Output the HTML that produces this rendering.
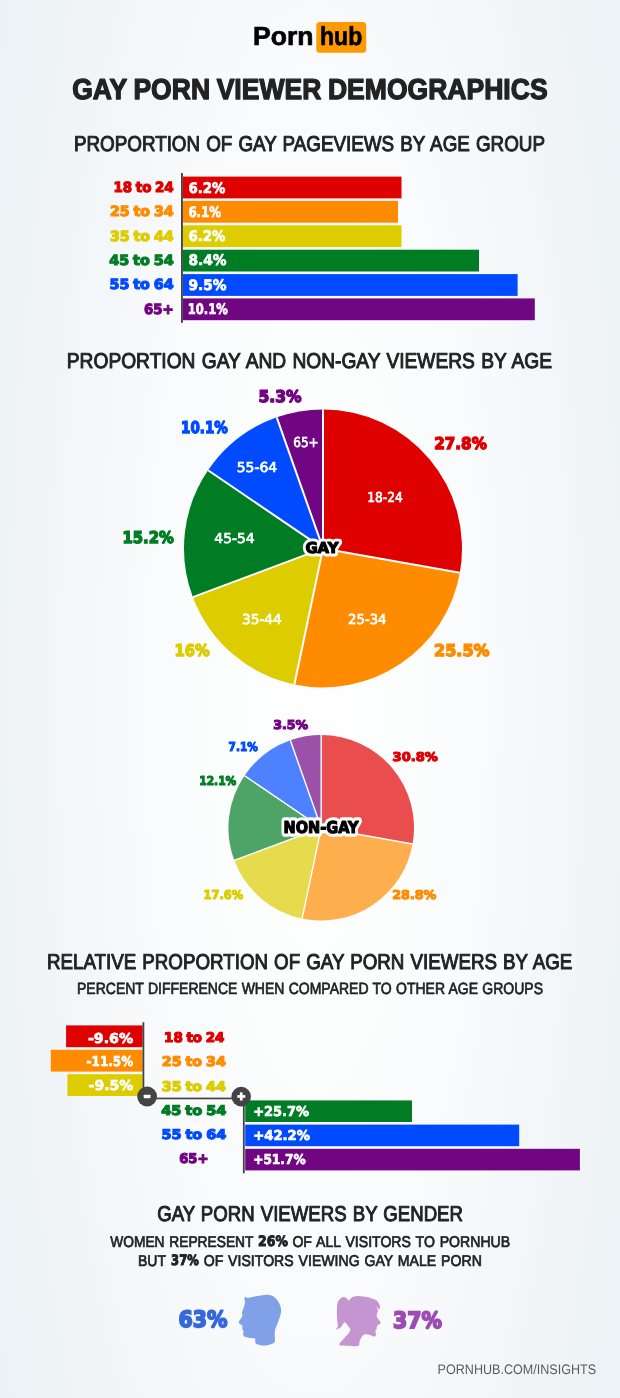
<!DOCTYPE html>
<html lang="en"><head><meta charset="utf-8"><title>Viewer Demographics</title>
<style>
html,body{margin:0;padding:0;background:#f6f8fa;}
body{width:620px;height:1398px;overflow:hidden;}
svg{display:block;}
text{white-space:pre;text-rendering:geometricPrecision;}
</style></head><body>
<svg width="620" height="1398" viewBox="0 0 620 1398">
<defs><radialGradient id="bg" gradientUnits="userSpaceOnUse" cx="0" cy="0" r="1" gradientTransform="translate(315 699) scale(400 1500)">
<stop offset="0" stop-color="#fefefe"/><stop offset="0.25" stop-color="#fcfdfd"/><stop offset="0.5" stop-color="#f7f9fb"/><stop offset="0.7" stop-color="#f1f5f8"/><stop offset="0.8" stop-color="#eef3f6"/><stop offset="1.05" stop-color="#e9eff3"/></radialGradient></defs>
<rect width="620" height="1398" fill="url(#bg)"/>
<text x="253.0" y="45.0" textLength="60.4" lengthAdjust="spacingAndGlyphs" font-family='"Liberation Sans", sans-serif' font-size="26.0" font-weight="bold" fill="#000" stroke="#000" stroke-width="0.7" stroke-linejoin="round">Porn</text>
<rect x="316.3" y="21.9" width="49.9" height="30.8" fill="#ff9900" rx="3.5"/>
<text x="320.1" y="45.0" textLength="42.1" lengthAdjust="spacingAndGlyphs" font-family='"Liberation Sans", sans-serif' font-size="26.0" font-weight="bold" fill="#000" stroke="#000" stroke-width="0.7" stroke-linejoin="round">hub</text>
<text x="72.2" y="99.4" textLength="475.4" lengthAdjust="spacingAndGlyphs" font-family='"Liberation Sans", sans-serif' font-size="28.8" font-weight="bold" fill="#222" stroke="#222" stroke-width="1.3" stroke-linejoin="round" word-spacing="-0.8">GAY PORN VIEWER DEMOGRAPHICS</text>
<text x="73.9" y="150.8" textLength="471.1" lengthAdjust="spacingAndGlyphs" font-family='"Liberation Sans", sans-serif' font-size="21.5" font-weight="normal" fill="#222" stroke="#222" stroke-width="1.0" stroke-linejoin="round" word-spacing="1.0">PROPORTION OF GAY PAGEVIEWS BY AGE GROUP</text>
<rect x="183.0" y="176.6" width="218.5" height="21.8" fill="#df0000"/>
<text x="113.4" y="192.1" textLength="60.3" lengthAdjust="spacingAndGlyphs" font-family='"DejaVu Sans", "Liberation Sans", sans-serif' font-size="13.99" font-weight="bold" fill="#df0000" stroke="#df0000" stroke-width="1.2" stroke-linejoin="miter" stroke-miterlimit="2" word-spacing="-1.0">18 to 24</text>
<text x="188.4" y="192.5" textLength="37.0" lengthAdjust="spacingAndGlyphs" font-family='"DejaVu Sans", "Liberation Sans", sans-serif' font-size="14.54" font-weight="bold" fill="#fff" stroke="#fff" stroke-width="0.7" stroke-linejoin="miter" stroke-miterlimit="2">6.2%</text>
<rect x="183.0" y="200.9" width="215.0" height="21.8" fill="#ff8c00"/>
<text x="110.0" y="216.4" textLength="63.7" lengthAdjust="spacingAndGlyphs" font-family='"DejaVu Sans", "Liberation Sans", sans-serif' font-size="13.99" font-weight="bold" fill="#ff8c00" stroke="#ff8c00" stroke-width="1.2" stroke-linejoin="miter" stroke-miterlimit="2" word-spacing="-1.0">25 to 34</text>
<text x="188.4" y="216.8" textLength="32.8" lengthAdjust="spacingAndGlyphs" font-family='"DejaVu Sans", "Liberation Sans", sans-serif' font-size="14.54" font-weight="bold" fill="#fff" stroke="#fff" stroke-width="0.7" stroke-linejoin="miter" stroke-miterlimit="2">6.1%</text>
<rect x="183.0" y="225.3" width="218.5" height="21.8" fill="#dccc00"/>
<text x="110.0" y="240.7" textLength="63.7" lengthAdjust="spacingAndGlyphs" font-family='"DejaVu Sans", "Liberation Sans", sans-serif' font-size="13.99" font-weight="bold" fill="#dccc00" stroke="#dccc00" stroke-width="1.2" stroke-linejoin="miter" stroke-miterlimit="2" word-spacing="-1.0">35 to 44</text>
<text x="188.4" y="241.1" textLength="37.0" lengthAdjust="spacingAndGlyphs" font-family='"DejaVu Sans", "Liberation Sans", sans-serif' font-size="14.54" font-weight="bold" fill="#fff" stroke="#fff" stroke-width="0.7" stroke-linejoin="miter" stroke-miterlimit="2">6.2%</text>
<rect x="183.0" y="249.7" width="296.0" height="21.8" fill="#007d24"/>
<text x="109.2" y="265.0" textLength="64.5" lengthAdjust="spacingAndGlyphs" font-family='"DejaVu Sans", "Liberation Sans", sans-serif' font-size="13.99" font-weight="bold" fill="#007d24" stroke="#007d24" stroke-width="1.2" stroke-linejoin="miter" stroke-miterlimit="2" word-spacing="-1.0">45 to 54</text>
<text x="188.4" y="265.4" textLength="38.1" lengthAdjust="spacingAndGlyphs" font-family='"DejaVu Sans", "Liberation Sans", sans-serif' font-size="14.54" font-weight="bold" fill="#fff" stroke="#fff" stroke-width="0.7" stroke-linejoin="miter" stroke-miterlimit="2">8.4%</text>
<rect x="183.0" y="274.1" width="334.6" height="21.8" fill="#004bff"/>
<text x="109.5" y="289.3" textLength="64.2" lengthAdjust="spacingAndGlyphs" font-family='"DejaVu Sans", "Liberation Sans", sans-serif' font-size="13.99" font-weight="bold" fill="#004bff" stroke="#004bff" stroke-width="1.2" stroke-linejoin="miter" stroke-miterlimit="2" word-spacing="-1.0">55 to 64</text>
<text x="188.4" y="289.7" textLength="38.1" lengthAdjust="spacingAndGlyphs" font-family='"DejaVu Sans", "Liberation Sans", sans-serif' font-size="14.54" font-weight="bold" fill="#fff" stroke="#fff" stroke-width="0.7" stroke-linejoin="miter" stroke-miterlimit="2">9.5%</text>
<rect x="183.0" y="298.4" width="351.8" height="21.8" fill="#700681"/>
<text x="144.1" y="313.6" textLength="29.6" lengthAdjust="spacingAndGlyphs" font-family='"DejaVu Sans", "Liberation Sans", sans-serif' font-size="13.99" font-weight="bold" fill="#700681" stroke="#700681" stroke-width="1.2" stroke-linejoin="miter" stroke-miterlimit="2" word-spacing="-1.0">65+</text>
<text x="187.8" y="314.0" textLength="40.0" lengthAdjust="spacingAndGlyphs" font-family='"DejaVu Sans", "Liberation Sans", sans-serif' font-size="14.54" font-weight="bold" fill="#fff" stroke="#fff" stroke-width="0.7" stroke-linejoin="miter" stroke-miterlimit="2">10.1%</text>
<rect x="181.0" y="173.0" width="1.9" height="149.8" fill="#444"/>
<text x="66.8" y="367.5" textLength="485.3" lengthAdjust="spacingAndGlyphs" font-family='"Liberation Sans", sans-serif' font-size="21.5" font-weight="normal" fill="#222" stroke="#222" stroke-width="1.0" stroke-linejoin="round" word-spacing="1.0">PROPORTION GAY AND NON-GAY VIEWERS BY AGE</text>
<path d="M323 548.4L323.00 409.40A139 139 0 0 1 459.85 572.73Z" fill="#df0000"/>
<path d="M323 548.4L459.85 572.73A139 139 0 0 1 294.39 684.42Z" fill="#ff8c00"/>
<path d="M323 548.4L294.39 684.42A139 139 0 0 1 192.82 597.12Z" fill="#dccc00"/>
<path d="M323 548.4L192.82 597.12A139 139 0 0 1 208.04 470.27Z" fill="#007d24"/>
<path d="M323 548.4L208.04 470.27A139 139 0 0 1 276.74 417.32Z" fill="#004bff"/>
<path d="M323 548.4L276.74 417.32A139 139 0 0 1 323.00 409.40Z" fill="#700681"/>
<line x1="323" y1="548.4" x2="323.00" y2="409.40" stroke="#fff" stroke-width="2"/>
<line x1="323" y1="548.4" x2="459.85" y2="572.73" stroke="#fff" stroke-width="2"/>
<line x1="323" y1="548.4" x2="294.39" y2="684.42" stroke="#fff" stroke-width="2"/>
<line x1="323" y1="548.4" x2="192.82" y2="597.12" stroke="#fff" stroke-width="2"/>
<line x1="323" y1="548.4" x2="208.04" y2="470.27" stroke="#fff" stroke-width="2"/>
<line x1="323" y1="548.4" x2="276.74" y2="417.32" stroke="#fff" stroke-width="2"/>
<text x="434.3" y="449.3" textLength="52.5" lengthAdjust="spacingAndGlyphs" font-family='"DejaVu Sans", "Liberation Sans", sans-serif' font-size="16.19" font-weight="bold" fill="#df0000" stroke="#df0000" stroke-width="1.4" stroke-linejoin="miter" stroke-miterlimit="2">27.8%</text>
<text x="434.1" y="655.7" textLength="55.4" lengthAdjust="spacingAndGlyphs" font-family='"DejaVu Sans", "Liberation Sans", sans-serif' font-size="16.19" font-weight="bold" fill="#ff8c00" stroke="#ff8c00" stroke-width="1.4" stroke-linejoin="miter" stroke-miterlimit="2">25.5%</text>
<text x="174.6" y="655.7" textLength="35.1" lengthAdjust="spacingAndGlyphs" font-family='"DejaVu Sans", "Liberation Sans", sans-serif' font-size="16.19" font-weight="bold" fill="#dccc00" stroke="#dccc00" stroke-width="1.4" stroke-linejoin="miter" stroke-miterlimit="2">16%</text>
<text x="122.5" y="543.0" textLength="51.3" lengthAdjust="spacingAndGlyphs" font-family='"DejaVu Sans", "Liberation Sans", sans-serif' font-size="16.19" font-weight="bold" fill="#007d24" stroke="#007d24" stroke-width="1.4" stroke-linejoin="miter" stroke-miterlimit="2">15.2%</text>
<text x="181.1" y="433.1" textLength="46.8" lengthAdjust="spacingAndGlyphs" font-family='"DejaVu Sans", "Liberation Sans", sans-serif' font-size="16.19" font-weight="bold" fill="#004bff" stroke="#004bff" stroke-width="1.4" stroke-linejoin="miter" stroke-miterlimit="2">10.1%</text>
<text x="258.5" y="402.2" textLength="43.0" lengthAdjust="spacingAndGlyphs" font-family='"DejaVu Sans", "Liberation Sans", sans-serif' font-size="16.19" font-weight="bold" fill="#700681" stroke="#700681" stroke-width="1.4" stroke-linejoin="miter" stroke-miterlimit="2">5.3%</text>
<text x="367.2" y="502.3" textLength="35.7" lengthAdjust="spacingAndGlyphs" font-family='"DejaVu Sans", "Liberation Sans", sans-serif' font-size="13.72" font-weight="normal" fill="#fff" stroke="#fff" stroke-width="0.7" stroke-linejoin="miter" stroke-miterlimit="2">18-24</text>
<text x="348.1" y="624.2" textLength="38.4" lengthAdjust="spacingAndGlyphs" font-family='"DejaVu Sans", "Liberation Sans", sans-serif' font-size="13.72" font-weight="normal" fill="#fff" stroke="#fff" stroke-width="0.7" stroke-linejoin="miter" stroke-miterlimit="2">25-34</text>
<text x="241.9" y="624.2" textLength="40.0" lengthAdjust="spacingAndGlyphs" font-family='"DejaVu Sans", "Liberation Sans", sans-serif' font-size="13.72" font-weight="normal" fill="#fff" stroke="#fff" stroke-width="0.7" stroke-linejoin="miter" stroke-miterlimit="2">35-44</text>
<text x="214.3" y="543.4" textLength="40.4" lengthAdjust="spacingAndGlyphs" font-family='"DejaVu Sans", "Liberation Sans", sans-serif' font-size="13.72" font-weight="normal" fill="#fff" stroke="#fff" stroke-width="0.7" stroke-linejoin="miter" stroke-miterlimit="2">45-54</text>
<text x="236.7" y="472.2" textLength="40.5" lengthAdjust="spacingAndGlyphs" font-family='"DejaVu Sans", "Liberation Sans", sans-serif' font-size="13.72" font-weight="normal" fill="#fff" stroke="#fff" stroke-width="0.7" stroke-linejoin="miter" stroke-miterlimit="2">55-64</text>
<text x="293.2" y="447.2" textLength="25.5" lengthAdjust="spacingAndGlyphs" font-family='"DejaVu Sans", "Liberation Sans", sans-serif' font-size="13.72" font-weight="normal" fill="#fff" stroke="#fff" stroke-width="0.7" stroke-linejoin="miter" stroke-miterlimit="2">65+</text>
<text x="305.4" y="553.2" textLength="33.1" lengthAdjust="spacingAndGlyphs" font-family='"DejaVu Sans", "Liberation Sans", sans-serif' font-size="14.9" font-weight="bold" fill="#fff" stroke="#fff" stroke-width="6.8" stroke-linejoin="round" aria-hidden="true">GAY</text>
<text x="305.4" y="553.2" textLength="33.1" lengthAdjust="spacingAndGlyphs" font-family='"DejaVu Sans", "Liberation Sans", sans-serif' font-size="14.9" font-weight="bold" fill="#000" stroke="#000" stroke-width="1.2" stroke-linejoin="round">GAY</text>
<path d="M321.2 827.8L321.20 735.00A92.8 92.8 0 0 1 412.57 844.04Z" fill="#e94d4d"/>
<path d="M321.2 827.8L412.57 844.04A92.8 92.8 0 0 1 302.10 918.61Z" fill="#ffae4d"/>
<path d="M321.2 827.8L302.10 918.61A92.8 92.8 0 0 1 234.29 860.33Z" fill="#e6db4d"/>
<path d="M321.2 827.8L234.29 860.33A92.8 92.8 0 0 1 244.45 775.64Z" fill="#4da466"/>
<path d="M321.2 827.8L244.45 775.64A92.8 92.8 0 0 1 290.31 740.29Z" fill="#4d81ff"/>
<path d="M321.2 827.8L290.31 740.29A92.8 92.8 0 0 1 321.20 735.00Z" fill="#9b51a7"/>
<line x1="321.2" y1="827.8" x2="321.20" y2="735.00" stroke="#fff" stroke-width="1.4"/>
<line x1="321.2" y1="827.8" x2="412.57" y2="844.04" stroke="#fff" stroke-width="1.4"/>
<line x1="321.2" y1="827.8" x2="302.10" y2="918.61" stroke="#fff" stroke-width="1.4"/>
<line x1="321.2" y1="827.8" x2="234.29" y2="860.33" stroke="#fff" stroke-width="1.4"/>
<line x1="321.2" y1="827.8" x2="244.45" y2="775.64" stroke="#fff" stroke-width="1.4"/>
<line x1="321.2" y1="827.8" x2="290.31" y2="740.29" stroke="#fff" stroke-width="1.4"/>
<text x="392.6" y="760.5" textLength="45.3" lengthAdjust="spacingAndGlyphs" font-family='"DejaVu Sans", "Liberation Sans", sans-serif' font-size="12.21" font-weight="bold" fill="#df0000" stroke="#df0000" stroke-width="1.1" stroke-linejoin="miter" stroke-miterlimit="2">30.8%</text>
<text x="392.2" y="898.9" textLength="44.2" lengthAdjust="spacingAndGlyphs" font-family='"DejaVu Sans", "Liberation Sans", sans-serif' font-size="12.21" font-weight="bold" fill="#ff8c00" stroke="#ff8c00" stroke-width="1.1" stroke-linejoin="miter" stroke-miterlimit="2">28.8%</text>
<text x="203.6" y="898.9" textLength="39.7" lengthAdjust="spacingAndGlyphs" font-family='"DejaVu Sans", "Liberation Sans", sans-serif' font-size="12.21" font-weight="bold" fill="#dccc00" stroke="#dccc00" stroke-width="1.1" stroke-linejoin="miter" stroke-miterlimit="2">17.6%</text>
<text x="199.2" y="785.0" textLength="37.1" lengthAdjust="spacingAndGlyphs" font-family='"DejaVu Sans", "Liberation Sans", sans-serif' font-size="12.21" font-weight="bold" fill="#007d24" stroke="#007d24" stroke-width="1.1" stroke-linejoin="miter" stroke-miterlimit="2">12.1%</text>
<text x="228.6" y="750.5" textLength="29.2" lengthAdjust="spacingAndGlyphs" font-family='"DejaVu Sans", "Liberation Sans", sans-serif' font-size="12.21" font-weight="bold" fill="#004bff" stroke="#004bff" stroke-width="1.1" stroke-linejoin="miter" stroke-miterlimit="2">7.1%</text>
<text x="273.2" y="728.6" textLength="34.9" lengthAdjust="spacingAndGlyphs" font-family='"DejaVu Sans", "Liberation Sans", sans-serif' font-size="12.21" font-weight="bold" fill="#700681" stroke="#700681" stroke-width="1.1" stroke-linejoin="miter" stroke-miterlimit="2">3.5%</text>
<text x="283.6" y="833.2" textLength="75.0" lengthAdjust="spacingAndGlyphs" font-family='"DejaVu Sans", "Liberation Sans", sans-serif' font-size="16.4" font-weight="bold" fill="#fff" stroke="#fff" stroke-width="7.4" stroke-linejoin="round" aria-hidden="true">NON-GAY</text>
<text x="283.6" y="833.2" textLength="75.0" lengthAdjust="spacingAndGlyphs" font-family='"DejaVu Sans", "Liberation Sans", sans-serif' font-size="16.4" font-weight="bold" fill="#000" stroke="#000" stroke-width="1.2" stroke-linejoin="round">NON-GAY</text>
<text x="46.9" y="968.8" textLength="525.5" lengthAdjust="spacingAndGlyphs" font-family='"Liberation Sans", sans-serif' font-size="21.5" font-weight="normal" fill="#222" stroke="#222" stroke-width="1.0" stroke-linejoin="round" word-spacing="1.0">RELATIVE PROPORTION OF GAY PORN VIEWERS BY AGE</text>
<text x="77.0" y="993.8" textLength="466.0" lengthAdjust="spacingAndGlyphs" font-family='"Liberation Sans", sans-serif' font-size="16.3" font-weight="normal" fill="#222" stroke="#222" stroke-width="0.7" stroke-linejoin="round" word-spacing="0.4">PERCENT DIFFERENCE WHEN COMPARED TO OTHER AGE GROUPS</text>
<rect x="66.1" y="1025.4" width="76.5" height="21.8" fill="#df0000"/>
<text x="87.9" y="1042.5" textLength="45.3" lengthAdjust="spacingAndGlyphs" font-family='"DejaVu Sans", "Liberation Sans", sans-serif' font-size="13.58" font-weight="bold" fill="#fff" stroke="#fff" stroke-width="0.7" stroke-linejoin="miter" stroke-miterlimit="2">-9.6%</text>
<rect x="50.8" y="1049.8" width="91.8" height="21.8" fill="#ff8c00"/>
<text x="86.6" y="1066.2" textLength="46.6" lengthAdjust="spacingAndGlyphs" font-family='"DejaVu Sans", "Liberation Sans", sans-serif' font-size="13.58" font-weight="bold" fill="#fff" stroke="#fff" stroke-width="0.7" stroke-linejoin="miter" stroke-miterlimit="2">-11.5%</text>
<rect x="67.4" y="1074.2" width="75.2" height="21.8" fill="#dccc00"/>
<text x="88.6" y="1090.0" textLength="44.6" lengthAdjust="spacingAndGlyphs" font-family='"DejaVu Sans", "Liberation Sans", sans-serif' font-size="13.58" font-weight="bold" fill="#fff" stroke="#fff" stroke-width="0.7" stroke-linejoin="miter" stroke-miterlimit="2">-9.5%</text>
<rect x="142.5" y="1022.2" width="1.8" height="74.8" fill="#444"/>
<rect x="147.0" y="1097.6" width="94.0" height="1.7" fill="#444"/>
<rect x="242.9" y="1097.0" width="1.8" height="76.3" fill="#444"/>
<rect x="245.2" y="1100.4" width="166.8" height="21.6" fill="#007d24"/>
<text x="253.2" y="1116.1" textLength="55.9" lengthAdjust="spacingAndGlyphs" font-family='"DejaVu Sans", "Liberation Sans", sans-serif' font-size="13.58" font-weight="bold" fill="#fff" stroke="#fff" stroke-width="0.7" stroke-linejoin="miter" stroke-miterlimit="2">+25.7%</text>
<rect x="245.2" y="1124.6" width="274.0" height="21.6" fill="#004bff"/>
<text x="253.2" y="1140.1" textLength="56.8" lengthAdjust="spacingAndGlyphs" font-family='"DejaVu Sans", "Liberation Sans", sans-serif' font-size="13.58" font-weight="bold" fill="#fff" stroke="#fff" stroke-width="0.7" stroke-linejoin="miter" stroke-miterlimit="2">+42.2%</text>
<rect x="245.2" y="1148.8" width="334.7" height="21.6" fill="#700681"/>
<text x="253.2" y="1164.1" textLength="52.4" lengthAdjust="spacingAndGlyphs" font-family='"DejaVu Sans", "Liberation Sans", sans-serif' font-size="13.58" font-weight="bold" fill="#fff" stroke="#fff" stroke-width="0.7" stroke-linejoin="miter" stroke-miterlimit="2">+51.7%</text>
<text x="164.1" y="1042.2" textLength="60.3" lengthAdjust="spacingAndGlyphs" font-family='"DejaVu Sans", "Liberation Sans", sans-serif' font-size="13.31" font-weight="bold" fill="#df0000" stroke="#df0000" stroke-width="1.2" stroke-linejoin="miter" stroke-miterlimit="2" word-spacing="-1.0">18 to 24</text>
<text x="161.8" y="1066.4" textLength="64.1" lengthAdjust="spacingAndGlyphs" font-family='"DejaVu Sans", "Liberation Sans", sans-serif' font-size="13.31" font-weight="bold" fill="#ff8c00" stroke="#ff8c00" stroke-width="1.2" stroke-linejoin="miter" stroke-miterlimit="2" word-spacing="-1.0">25 to 34</text>
<text x="161.8" y="1090.6" textLength="64.1" lengthAdjust="spacingAndGlyphs" font-family='"DejaVu Sans", "Liberation Sans", sans-serif' font-size="13.31" font-weight="bold" fill="#dccc00" stroke="#dccc00" stroke-width="1.2" stroke-linejoin="miter" stroke-miterlimit="2" word-spacing="-1.0">35 to 44</text>
<text x="161.2" y="1114.8" textLength="65.2" lengthAdjust="spacingAndGlyphs" font-family='"DejaVu Sans", "Liberation Sans", sans-serif' font-size="13.31" font-weight="bold" fill="#007d24" stroke="#007d24" stroke-width="1.2" stroke-linejoin="miter" stroke-miterlimit="2" word-spacing="-1.0">45 to 54</text>
<text x="161.5" y="1139.0" textLength="64.7" lengthAdjust="spacingAndGlyphs" font-family='"DejaVu Sans", "Liberation Sans", sans-serif' font-size="13.31" font-weight="bold" fill="#004bff" stroke="#004bff" stroke-width="1.2" stroke-linejoin="miter" stroke-miterlimit="2" word-spacing="-1.0">55 to 64</text>
<text x="179.2" y="1163.2" textLength="29.2" lengthAdjust="spacingAndGlyphs" font-family='"DejaVu Sans", "Liberation Sans", sans-serif' font-size="13.31" font-weight="bold" fill="#700681" stroke="#700681" stroke-width="1.2" stroke-linejoin="miter" stroke-miterlimit="2" word-spacing="-1.0">65+</text>
<circle cx="147.1" cy="1096.5" r="9.9" fill="#444"/>
<rect x="143.7" y="1094.7" width="6.8" height="3.5" fill="#fff" rx="0.6"/>
<circle cx="241.2" cy="1096.6" r="9.8" fill="#444"/>
<rect x="237.3" y="1095.1" width="8.0" height="2.7" fill="#fff"/>
<rect x="239.9" y="1092.4" width="2.7" height="8.1" fill="#fff"/>
<text x="157.2" y="1220.7" textLength="305.8" lengthAdjust="spacingAndGlyphs" font-family='"Liberation Sans", sans-serif' font-size="21.5" font-weight="normal" fill="#222" stroke="#222" stroke-width="1.0" stroke-linejoin="round" word-spacing="1.0">GAY PORN VIEWERS BY GENDER</text>
<text x="110.2" y="1246.7" textLength="143.3" lengthAdjust="spacingAndGlyphs" font-family='"Liberation Sans", sans-serif' font-size="15.6" font-weight="normal" fill="#222" stroke="#222" stroke-width="0.7" stroke-linejoin="round" word-spacing="1.0">WOMEN REPRESENT</text>
<text x="258.1" y="1246.4" textLength="29.8" lengthAdjust="spacingAndGlyphs" font-family='"DejaVu Sans", "Liberation Sans", sans-serif' font-size="14.27" font-weight="bold" fill="#222" stroke="#222" stroke-width="1.0" stroke-linejoin="miter" stroke-miterlimit="2">26%</text>
<text x="292.4" y="1246.7" textLength="217.8" lengthAdjust="spacingAndGlyphs" font-family='"Liberation Sans", sans-serif' font-size="15.6" font-weight="normal" fill="#222" stroke="#222" stroke-width="0.7" stroke-linejoin="round" word-spacing="1.0">OF ALL VISITORS TO PORNHUB</text>
<text x="138.0" y="1265.6" textLength="28.0" lengthAdjust="spacingAndGlyphs" font-family='"Liberation Sans", sans-serif' font-size="15.6" font-weight="normal" fill="#222" stroke="#222" stroke-width="0.7" stroke-linejoin="round" word-spacing="1.0">BUT</text>
<text x="171.1" y="1265.3" textLength="27.7" lengthAdjust="spacingAndGlyphs" font-family='"DejaVu Sans", "Liberation Sans", sans-serif' font-size="14.27" font-weight="bold" fill="#222" stroke="#222" stroke-width="1.0" stroke-linejoin="miter" stroke-miterlimit="2">37%</text>
<text x="203.7" y="1265.6" textLength="278.2" lengthAdjust="spacingAndGlyphs" font-family='"Liberation Sans", sans-serif' font-size="15.6" font-weight="normal" fill="#222" stroke="#222" stroke-width="0.7" stroke-linejoin="round" word-spacing="1.0">OF VISITORS VIEWING GAY MALE PORN</text>
<text x="178.5" y="1327.3" textLength="49.0" lengthAdjust="spacingAndGlyphs" font-family='"DejaVu Sans", "Liberation Sans", sans-serif' font-size="22.50" font-weight="bold" fill="#3568dc" stroke="#3568dc" stroke-width="1.8" stroke-linejoin="miter" stroke-miterlimit="2">63%</text>
<text x="392.9" y="1327.7" textLength="49.0" lengthAdjust="spacingAndGlyphs" font-family='"DejaVu Sans", "Liberation Sans", sans-serif' font-size="22.50" font-weight="bold" fill="#9c4cb4" stroke="#9c4cb4" stroke-width="1.8" stroke-linejoin="miter" stroke-miterlimit="2">37%</text>
<text x="437.6" y="1374.0" textLength="158.6" lengthAdjust="spacingAndGlyphs" font-family='"Liberation Sans", sans-serif' font-size="13.8" font-weight="normal" fill="#5c5c5c">PORNHUB.COM/INSIGHTS</text>
<path d="M245.6 1296.6C246.1 1296.5 245.3 1298.0 247.2 1297.9C249.1 1297.8 254.2 1296.5 257.3 1296.0C260.3 1295.5 263.8 1294.7 266.3 1294.7C268.8 1294.7 270.9 1294.9 272.7 1296.0C274.6 1297.0 276.6 1299.2 277.9 1301.1C279.2 1303.1 280.5 1306.1 280.9 1308.2C281.3 1310.4 281.0 1312.4 280.5 1314.7C280.0 1316.9 278.7 1320.1 277.9 1322.4C277.1 1324.7 275.8 1327.0 275.3 1328.9C274.8 1330.7 274.8 1332.0 274.7 1334.0C274.6 1336.1 275.4 1340.1 274.7 1341.8C274.0 1343.4 271.9 1343.7 270.2 1344.4C268.4 1345.0 265.7 1345.6 263.7 1345.6C261.7 1345.7 259.2 1345.1 257.9 1344.6C256.6 1344.1 255.8 1343.4 255.3 1342.4C254.8 1341.4 255.9 1339.3 254.9 1338.5C254.0 1337.8 251.2 1338.2 249.5 1337.9C247.8 1337.6 245.4 1337.3 244.4 1336.6C243.3 1335.9 243.2 1334.2 243.1 1333.4C243.0 1332.6 243.8 1332.1 243.7 1331.5C243.6 1330.8 242.7 1330.4 242.4 1329.5C242.2 1328.6 242.6 1326.6 242.2 1325.6C241.7 1324.7 240.0 1324.3 239.5 1323.7C238.9 1323.1 238.5 1323.0 238.9 1321.8C239.4 1320.5 241.9 1317.4 242.4 1316.0C242.9 1314.5 241.7 1314.4 242.0 1312.7C242.3 1311.1 243.9 1307.4 244.4 1305.6C244.8 1303.9 245.0 1302.9 245.0 1301.8C245.0 1300.6 244.3 1299.4 244.4 1298.5C244.5 1297.7 245.2 1296.7 245.6 1296.6Z" fill="#80a0e8"/>
<path d="M342.4 1297.3C341.1 1297.9 338.8 1299.6 337.9 1301.8C337.0 1303.9 337.0 1307.7 336.9 1310.8C336.8 1313.9 337.1 1318.7 337.3 1321.1C337.4 1323.6 338.1 1324.9 337.9 1326.3C337.7 1327.6 335.8 1329.2 336.0 1329.5C336.2 1329.8 338.4 1328.6 339.2 1328.2C340.0 1327.8 340.3 1327.9 341.1 1326.9C342.0 1326.0 343.5 1322.9 344.4 1322.4C345.2 1321.9 345.4 1322.7 346.3 1323.7C347.2 1324.7 349.7 1327.4 350.2 1328.9C350.6 1330.3 349.8 1331.3 348.9 1332.7C347.9 1334.2 345.9 1336.0 344.4 1337.9C342.8 1339.8 339.2 1343.1 339.2 1344.4C339.2 1345.6 341.4 1345.4 344.4 1345.6C347.3 1345.9 355.4 1346.7 357.9 1345.9C360.4 1345.1 358.9 1342.3 359.8 1340.5C360.8 1338.7 362.2 1335.6 363.7 1334.7C365.3 1333.7 367.9 1334.4 369.5 1334.7C371.2 1335.0 373.0 1336.6 374.0 1336.6C375.1 1336.6 375.8 1335.5 376.0 1334.7C376.2 1333.9 375.2 1332.4 375.3 1331.5C375.4 1330.5 376.3 1329.8 376.6 1328.9C376.9 1327.9 376.6 1326.6 377.3 1325.6C377.9 1324.7 380.6 1324.2 380.7 1323.1C380.8 1321.9 378.6 1319.8 377.9 1318.5C377.2 1317.3 376.6 1316.6 376.6 1315.3C376.6 1314.1 377.9 1312.3 377.9 1310.8C377.9 1309.4 376.4 1306.5 376.6 1306.3C376.8 1306.1 378.7 1309.6 379.2 1309.5C379.7 1309.4 380.3 1307.1 379.8 1305.6C379.4 1304.2 378.2 1301.7 376.6 1300.5C375.1 1299.2 372.2 1298.5 370.2 1297.9C368.1 1297.3 365.8 1296.9 363.7 1296.6C361.6 1296.3 359.1 1295.9 357.3 1296.0C355.4 1296.1 353.4 1296.5 352.1 1297.3C350.8 1298.0 349.8 1300.4 348.9 1300.5C347.9 1300.6 347.3 1298.4 346.3 1297.9C345.3 1297.4 343.8 1296.6 342.4 1297.3Z" fill="#c495d0"/>
</svg>
</body></html>
